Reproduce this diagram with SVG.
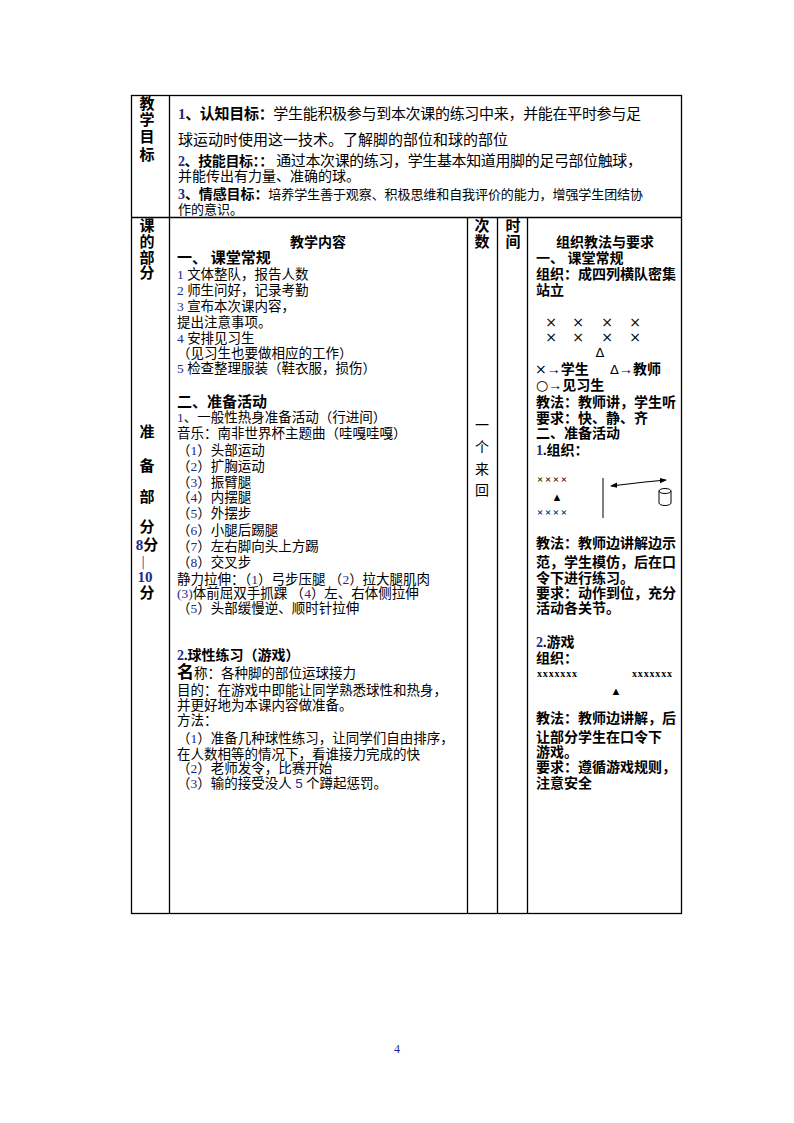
<svg xmlns="http://www.w3.org/2000/svg" width="794" height="1123" viewBox="0 0 794 1123">
<style>
.t{font-family:"Liberation Serif","Noto Sans CJK SC",serif;font-size:13.5px;fill:#000}
.b{font-weight:bold}
.n{fill:#1c2a8a}
.r{font-family:"Liberation Serif","Noto Sans CJK SC",serif;font-size:14px;font-weight:bold;fill:#000}
.v{font-family:"Noto Sans CJK SC",sans-serif;font-size:15px;font-weight:bold;fill:#000;text-anchor:middle}
.x{font-family:"DejaVu Sans",sans-serif;font-size:14px;fill:#000;text-anchor:middle}
.ln{stroke:#000;stroke-width:1.3;fill:none}
</style>
<defs>
<marker id="ah" viewBox="0 0 8 6" refX="7" refY="3" markerWidth="6" markerHeight="5" orient="auto-start-reverse">
<path d="M0,0 L8,3 L0,6 z" fill="#000"/>
</marker>
</defs>
<rect width="794" height="1123" fill="#fff"/>

<g id="table">
<rect class="ln" x="131.5" y="95.5" width="550" height="818"/>
<line class="ln" x1="169.5" y1="95.5" x2="169.5" y2="913.5"/>
<line class="ln" x1="131.5" y1="217.5" x2="681.5" y2="217.5"/>
<line class="ln" x1="467.5" y1="217.5" x2="467.5" y2="913.5"/>
<line class="ln" x1="497.5" y1="217.5" x2="497.5" y2="913.5"/>
<line class="ln" x1="527.5" y1="217.5" x2="527.5" y2="913.5"/>
</g>

<g id="goals-label">
<text class="v"><tspan x="147" y="109">教</tspan><tspan x="147" y="125">学</tspan><tspan x="147" y="142">目</tspan><tspan x="147" y="160">标</tspan></text>
</g>

<g id="goals">
<text class="t" style="font-size:15px" x="178" y="119" textLength="463"><tspan class="b"><tspan class="n">1</tspan>、认知目标：</tspan>学生能积极参与到本次课的练习中来，并能在平时参与足</text>
<text class="t" style="font-size:15px" x="178" y="145">球运动时使用这一技术。了解脚的部位和球的部位</text>
<text class="t" style="font-size:15px" x="178" y="166" textLength="464"><tspan class="b" style="font-size:14px"><tspan class="n">2</tspan>、技能目标：：</tspan> 通过本次课的练习，学生基本知道用脚的足弓部位触球，</text>
<text class="t" style="font-size:14px" x="178" y="181">并能传出有力量、准确的球。</text>
<text class="t" style="font-size:13px" x="178" y="199" textLength="465"><tspan class="b" style="font-size:14px"><tspan class="n">3</tspan>、情感目标：</tspan>培养学生善于观察、积极思维和自我评价的能力，增强学生团结协</text>
<text class="t" style="font-size:13px" x="178" y="214">作的意识。</text>
</g>

<g id="part-label">
<text class="v"><tspan x="147" y="231">课</tspan><tspan x="147" y="247">的</tspan><tspan x="147" y="263">部</tspan><tspan x="147" y="278">分</tspan></text>
<text class="v"><tspan x="147" y="437">准</tspan><tspan x="147" y="471">备</tspan><tspan x="147" y="502">部</tspan><tspan x="147" y="532">分</tspan><tspan x="147" y="550"><tspan class="n" font-family="Liberation Serif">8</tspan>分</tspan><tspan class="n" x="143" y="566" style="font-size:12px;font-weight:normal">|</tspan><tspan class="n" x="145" y="582" font-family="Liberation Serif">10</tspan><tspan x="147" y="598">分</tspan></text>
</g>

<g id="content">
<text class="t b" style="font-size:14px" x="318" y="247" text-anchor="middle">教学内容</text>
<text class="t b" style="font-size:15px" x="177" y="263">一、 课堂常规</text>
<text class="t" x="177" y="279"><tspan class="n">1</tspan> 文体整队，报告人数</text>
<text class="t" x="177" y="295"><tspan class="n">2</tspan> 师生问好，记录考勤</text>
<text class="t" x="177" y="311"><tspan class="n">3</tspan> 宣布本次课内容，</text>
<text class="t" x="177" y="327">提出注意事项。</text>
<text class="t" x="177" y="343"><tspan class="n">4</tspan> 安排见习生</text>
<text class="t" x="177" y="358">（见习生也要做相应的工作）</text>
<text class="t" x="177" y="373"><tspan class="n">5</tspan> 检查整理服装（鞋衣服，损伤）</text>

<text class="t b" style="font-size:15px" x="177" y="407">二、准备活动</text>
<text class="t" x="177" y="422"><tspan class="n">1</tspan>、一般性热身准备活动（行进间）</text>
<text class="t" x="177" y="438">音乐：南非世界杯主题曲（哇嘎哇嘎）</text>
<text class="t" x="177" y="455">（<tspan class="n">1</tspan>）头部运动</text>
<text class="t" x="177" y="471">（<tspan class="n">2</tspan>）扩胸运动</text>
<text class="t" x="177" y="487">（<tspan class="n">3</tspan>）振臂腿</text>
<text class="t" x="177" y="502">（<tspan class="n">4</tspan>）内摆腿</text>
<text class="t" x="177" y="518">（<tspan class="n">5</tspan>）外摆步</text>
<text class="t" x="177" y="535">（<tspan class="n">6</tspan>）小腿后踢腿</text>
<text class="t" x="177" y="551">（<tspan class="n">7</tspan>）左右脚向头上方踢</text>
<text class="t" x="177" y="567">（<tspan class="n">8</tspan>）交叉步</text>
<text class="t" x="177" y="584">静力拉伸：（<tspan class="n">1</tspan>）弓步压腿 （<tspan class="n">2</tspan>）拉大腿肌肉</text>
<text class="t" x="177" y="598"><tspan class="n">(3)</tspan>体前屈双手抓踝 （<tspan class="n">4</tspan>）左、右体侧拉伸</text>
<text class="t" x="177" y="613">（<tspan class="n">5</tspan>）头部缓慢逆、顺时针拉伸</text>

<text class="t b" style="font-size:14px" x="177" y="660"><tspan class="n">2</tspan>.球性练习（游戏）</text>
<text class="t" x="177" y="678"><tspan style="font-size:17px;font-weight:bold">名</tspan>称：各种脚的部位运球接力</text>
<text class="t" x="177" y="695">目的：在游戏中即能让同学熟悉球性和热身，</text>
<text class="t" x="177" y="710">并更好地为本课内容做准备。</text>
<text class="t" x="177" y="725">方法：</text>
<text class="t" x="177" y="743">（<tspan class="n">1</tspan>）准备几种球性练习，让同学们自由排序，</text>
<text class="t" x="177" y="759">在人数相等的情况下，看谁接力完成的快</text>
<text class="t" x="177" y="773">（<tspan class="n">2</tspan>）老师发令，比赛开始</text>
<text class="t" x="177" y="788">（<tspan class="n">3</tspan>）输的接受没人 <tspan class="n" font-family="Liberation Sans">5</tspan> 个蹲起惩罚。</text>
</g>

<g id="times">
<text class="v"><tspan x="482" y="231">次</tspan><tspan x="482" y="247">数</tspan></text>
<text class="v"><tspan x="513" y="231">时</tspan><tspan x="513" y="247">间</tspan></text>
<text class="t" style="font-size:14px" text-anchor="middle"><tspan x="482" y="430">一</tspan><tspan x="482" y="452">个</tspan><tspan x="482" y="474">来</tspan><tspan x="482" y="495">回</tspan></text>
</g>

<g id="method">
<text class="r" x="605" y="247" text-anchor="middle">组织教法与要求</text>
<text class="r" x="536" y="263">一、 课堂常规</text>
<text class="r" x="536" y="279">组织：成四列横队密集</text>
<text class="r" x="536" y="295">站立</text>
<text class="x"><tspan x="551" y="327">×</tspan><tspan x="578" y="327">×</tspan><tspan x="607" y="327">×</tspan><tspan x="635" y="327">×</tspan><tspan x="551" y="342">×</tspan><tspan x="578" y="342">×</tspan><tspan x="607" y="342">×</tspan><tspan x="635" y="342">×</tspan><tspan x="600" y="357" style="font-size:13px">Δ</tspan></text>
<text class="r" x="535" y="374"><tspan font-weight="normal" font-family="DejaVu Sans" font-size="14">×</tspan>→学生</text>
<text class="r" x="610" y="374"><tspan font-weight="normal" font-family="DejaVu Sans" font-size="13">Δ</tspan>→教师</text>
<text class="r" x="536" y="390"><tspan font-weight="normal" font-family="DejaVu Sans">○</tspan>→见习生</text>
<text class="r" x="536" y="407">教法：教师讲，学生听</text>
<text class="r" x="536" y="423">要求：快、静、齐</text>
<text class="r" x="536" y="438">二、准备活动</text>
<text class="r" x="536" y="455"><tspan class="n">1</tspan>.组织：</text>

<text class="r" style="font-size:11px" x="537" y="483" textLength="30">××××</text>
<text class="t" style="font-size:11px" x="557" y="501" text-anchor="middle">▲</text>
<text class="r" style="font-size:11px" x="537" y="516" textLength="30">××××</text>
<line class="ln" x1="603" y1="478" x2="603" y2="518" style="stroke-width:1"/>
<polyline class="ln" points="611,486 645,482 666,480" style="stroke-width:1.2" marker-start="url(#ah)" marker-end="url(#ah)"/>
<path class="ln" d="M659,491 L659,503 A6,2.5 0 0 0 671,503 L671,491 A6,2.5 0 0 0 659,491 A6,2.5 0 0 0 671,491" style="stroke-width:1"/>

<text class="r" x="536" y="548">教法：教师边讲解边示</text>
<text class="r" x="536" y="567">范，学生模仿，后在口</text>
<text class="r" x="536" y="583">令下进行练习。</text>
<text class="r" x="536" y="598">要求：动作到位，充分</text>
<text class="r" x="536" y="613">活动各关节。</text>

<text class="r" x="536" y="647"><tspan class="n">2</tspan>.游戏</text>
<text class="r" x="536" y="663">组织：</text>
<text class="r" style="font-size:10px" x="537" y="677" textLength="40">xxxxxxx</text>
<text class="r" style="font-size:10px" x="632" y="677" textLength="40">xxxxxxx</text>
<text class="t" style="font-size:11px" x="616" y="695" text-anchor="middle">▲</text>
<text class="r" x="536" y="723">教法：教师边讲解，后</text>
<text class="r" x="536" y="742">让部分学生在口令下</text>
<text class="r" x="536" y="757">游戏。</text>
<text class="r" x="536" y="772">要求：遵循游戏规则，</text>
<text class="r" x="536" y="788">注意安全</text>
</g>

<text x="397" y="1053" text-anchor="middle" style="font-family:'Liberation Serif',serif;font-size:12px;fill:#1c2a8a">4</text>
</svg>
